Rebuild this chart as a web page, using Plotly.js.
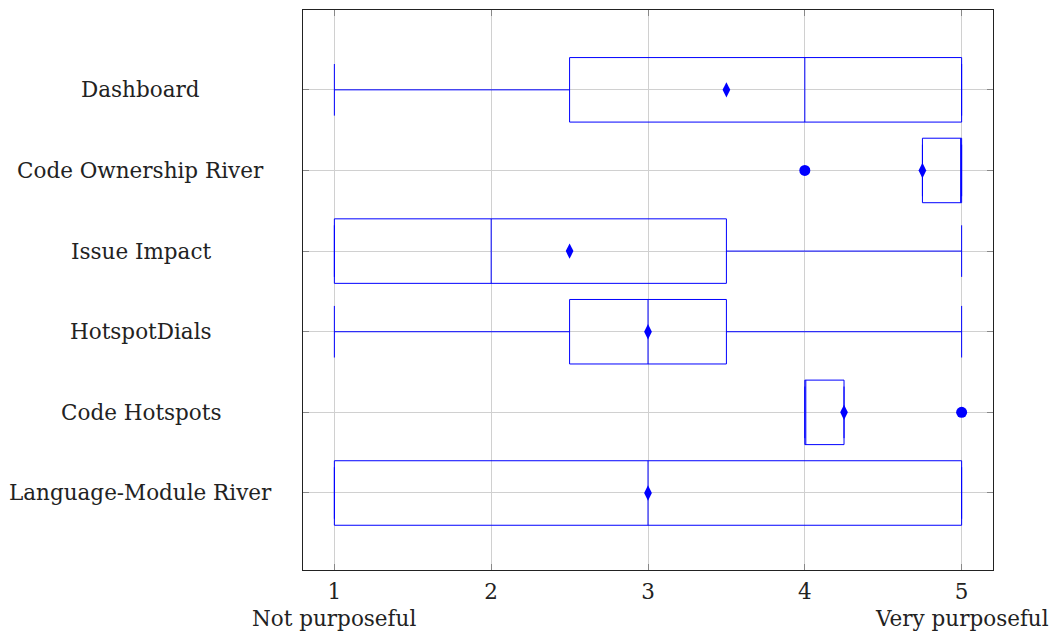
<!DOCTYPE html>
<html>
<head>
<meta charset="utf-8">
<script src="https://cdn.plot.ly/plotly-3.0.1.min.js"></script>
<style>html,body{margin:0;padding:0;background:#fff;}#chart{width:1053px;height:633px;}</style>
</head>
<body>
<div id="chart"></div>
<script>
// Categories, bottom to top (position 1..6)
const categories = ["Language-Module River", "Code Hotspots", "HotspotDials", "Issue Impact", "Code Ownership River", "Dashboard"];
const positions = [1, 2, 3, 4, 5, 6];
const lowerWhisker = [1, 4, 1, 1, 4.75, 1];
const q1Values     = [1, 4, 2.5, 1, 4.75, 2.5];
const medianValues = [3, 4, 3, 2, 5, 4];
const q3Values     = [5, 4.25, 3.5, 3.5, 5, 5];
const upperWhisker = [5, 4.25, 5, 5, 5, 5];
const meanValues   = [3, 4.25, 3, 2.5, 4.75, 3.5];
// Outliers
const outlierCats = ["Code Hotspots", "Code Ownership River"];
const outlierValues = [5, 4];
const xTicks = [1, 2, 3, 4, 5];
const xEndLabels = ["Not purposeful", "Very purposeful"];

const blue = "#0000ff";
const font = "DejaVu Serif";
const fsize = 21.5;
const txtColor = "#222";
const posOf = c => positions[categories.indexOf(c)];

const traces = [{
  type: "box",
  orientation: "h",
  y: positions,
  lowerfence: lowerWhisker,
  q1: q1Values,
  median: medianValues,
  q3: q3Values,
  upperfence: upperWhisker,
  width: 0.8,
  whiskerwidth: 0.8,
  fillcolor: "rgba(0,0,0,0)",
  line: {color: blue, width: 1},
  hoverinfo: "skip",
  showlegend: false
}, {
  type: "scatter",
  mode: "markers",
  x: meanValues,
  y: positions,
  marker: {symbol: "diamond-tall", size: 11, color: blue},
  showlegend: false,
  hoverinfo: "skip"
}, {
  type: "scatter",
  mode: "markers",
  x: outlierValues,
  y: outlierCats.map(posOf),
  marker: {symbol: "circle", size: 11, color: blue},
  showlegend: false,
  hoverinfo: "skip"
}];

const annotations = categories.map((c, i) => ({
  text: c, xref: "paper", yref: "y", x: -0.235, y: positions[i],
  xanchor: "center", yanchor: "middle", showarrow: false,
  font: {family: font, size: fsize, color: txtColor}
})).concat([
  {text: xEndLabels[0], xref: "x", yref: "paper", x: xTicks[0], y: -0.086, xanchor: "center", yanchor: "middle", showarrow: false, font: {family: font, size: fsize, color: txtColor}},
  {text: xEndLabels[1], xref: "x", yref: "paper", x: xTicks[xTicks.length - 1], y: -0.086, xanchor: "center", yanchor: "middle", showarrow: false, font: {family: font, size: fsize, color: txtColor}}
]);

const layout = {
  width: 1053, height: 633,
  margin: {l: 303, r: 60, t: 10, b: 63},
  paper_bgcolor: "#fff", plot_bgcolor: "#fff",
  showlegend: false,
  xaxis: {
    range: [0.8, 5.2], tickvals: xTicks, ticktext: xTicks.map(String),
    showgrid: true, gridcolor: "#d0d0d0", gridwidth: 1, zeroline: false,
    showline: true, linecolor: "#222", linewidth: 1, mirror: "ticks",
    ticks: "inside", ticklen: 6, tickcolor: "#888", ticklabelstandoff: 2,
    tickfont: {family: font, size: fsize, color: txtColor}
  },
  yaxis: {
    range: [0.045, 6.99], tickvals: positions, showticklabels: false,
    showgrid: true, gridcolor: "#d0d0d0", gridwidth: 1, zeroline: false,
    showline: true, linecolor: "#222", linewidth: 1, mirror: "ticks",
    ticks: "inside", ticklen: 6, tickcolor: "#888"
  },
  annotations: annotations
};

Plotly.newPlot("chart", traces, layout, {displayModeBar: false, staticPlot: true});
</script>
</body>
</html>
